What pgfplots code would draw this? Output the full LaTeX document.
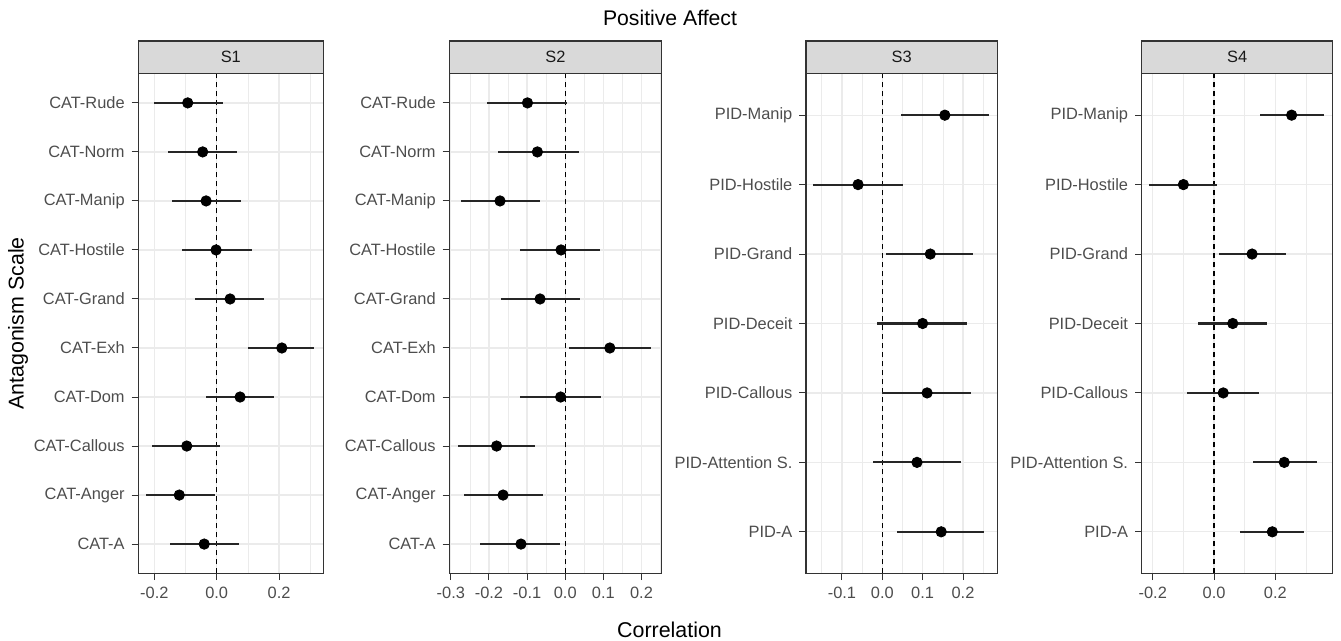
\documentclass[border=0pt]{standalone}
\usepackage{fontspec}
\setmainfont{Liberation Sans}
\usepackage{pgfplots}
\usepackage{pgfplotstable}
\pgfplotsset{compat=1.18}
\definecolor{gridc}{HTML}{EBEBEB}
\definecolor{framec}{HTML}{333333}
\definecolor{tickc}{HTML}{4D4D4D}
\definecolor{stripc}{HTML}{D9D9D9}

% i = row position (1 = bottom), r = correlation, lo/hi = interval
\pgfplotstableread{
i r lo hi
1 -0.040 -0.150 0.073
2 -0.120 -0.228 -0.005
3 -0.096 -0.206 0.011
4 0.075 -0.034 0.184
5 0.209 0.102 0.313
6 0.043 -0.070 0.153
7 -0.002 -0.110 0.112
8 -0.034 -0.144 0.077
9 -0.045 -0.157 0.064
10 -0.093 -0.201 0.021
}\sone
\pgfplotstableread{
i r lo hi
1 -0.116 -0.224 -0.014
2 -0.163 -0.266 -0.059
3 -0.180 -0.281 -0.078
4 -0.012 -0.119 0.095
5 0.117 0.010 0.224
6 -0.066 -0.169 0.040
7 -0.011 -0.119 0.091
8 -0.171 -0.274 -0.066
9 -0.073 -0.176 0.037
10 -0.099 -0.204 0.005
}\stwo
\pgfplotstableread{
i r lo hi
1 0.146 0.036 0.2525
2 0.086 -0.0225 0.196
3 0.111 -0.001 0.219
4 0.100 -0.0125 0.209
5 0.119 0.009 0.226
6 -0.060 -0.1725 0.0525
7 0.155 0.046 0.265
}\sthree
\pgfplotstableread{
i r lo hi
1 0.190 0.083 0.295
2 0.229 0.128 0.337
3 0.030 -0.087 0.145
4 0.061 -0.051 0.172
5 0.124 0.017 0.234
6 -0.100 -0.211 0.011
7 0.253 0.150 0.359
}\sfour

\pgfplotsset{
  panel/.style={
    scale only axis, height=250pt, anchor=south west, clip=false,
    axis line style={framec, line width=0.6pt},
    tick align=outside, tick pos=left,
    major tick length=3.3pt, minor tick length=0pt,
    tick style={framec, line width=0.5pt},
    xmajorgrids, ymajorgrids, xminorgrids,
    major grid style={gridc, line width=0.6pt},
    minor grid style={gridc, line width=0.3pt},
    ticklabel style={font=\fontsize{8.2}{9}\selectfont, text=tickc},
    ytick={1,...,10},
  },
  cat/.style={ymin=0.4, ymax=10.6,
    yticklabels={CAT-A,CAT-Anger,CAT-Callous,CAT-Dom,CAT-Exh,CAT-Grand,CAT-Hostile,CAT-Manip,CAT-Norm,CAT-Rude}},
  pid/.style={ymin=0.4, ymax=7.6, ytick={1,...,7},
    yticklabels={PID-A,PID-Attention S.,PID-Callous,PID-Deceit,PID-Grand,PID-Hostile,PID-Manip}},
  est/.style={only marks, mark=*, mark size=2.6pt, black,
    error bars/.cd, x dir=both, x explicit, error mark=none,
    error bar style={line width=1.1pt, black!85}},
  zero/.style={black, line width=0.6pt, dash pattern=on 2.5pt off 2pt},
}

\newcommand{\strip}[1]{%
  \draw[framec, line width=0.6pt, fill=stripc] (rel axis cs:0,1) rectangle ([yshift=16.25pt]rel axis cs:1,1);
  \node[font=\fontsize{8.2}{9}\selectfont, text=black!90] at ([yshift=8.1pt]rel axis cs:0.5,1) {#1};
}

\begin{document}
\begin{tikzpicture}
\useasboundingbox (0,0) rectangle (670.5pt,320.5pt);

\begin{axis}[panel, cat, at={(69.15pt,33.75pt)}, width=92.5pt,
  xmin=-0.2515, xmax=0.342,
  xtick={-0.2,0,0.2}, xticklabels={-0.2,0.0,0.2},
  minor xtick={-0.1,0.1,0.3}]
\addplot[zero] coordinates {(0,0.4) (0,10.6)};
\addplot[est] table[x=r, y=i, x error plus expr=\thisrow{hi}-\thisrow{r}, x error minus expr=\thisrow{r}-\thisrow{lo}] {\sone};
\strip{S1}
\end{axis}

\begin{axis}[panel, cat, at={(224.65pt,33.75pt)}, width=106.2pt,
  xmin=-0.304, xmax=0.253,
  xtick={-0.3,-0.2,-0.1,0,0.1,0.2}, xticklabels={-0.3,-0.2,-0.1,0.0,0.1,0.2},
  minor xtick={-0.25,-0.15,-0.05,0.05,0.15,0.25}]
\addplot[zero] coordinates {(0,0.4) (0,10.6)};
\addplot[est] table[x=r, y=i, x error plus expr=\thisrow{hi}-\thisrow{r}, x error minus expr=\thisrow{r}-\thisrow{lo}] {\stwo};
\strip{S2}
\end{axis}

\begin{axis}[panel, pid, at={(403pt,33.75pt)}, width=95.65pt,
  xmin=-0.189, xmax=0.285,
  xtick={-0.1,0,0.1,0.2}, xticklabels={-0.1,0.0,0.1,0.2},
  minor xtick={-0.15,-0.05,0.05,0.15,0.25}]
\addplot[zero] coordinates {(0,0.4) (0,7.6)};
\addplot[est] table[x=r, y=i, x error plus expr=\thisrow{hi}-\thisrow{r}, x error minus expr=\thisrow{r}-\thisrow{lo}] {\sthree};
\strip{S3}
\end{axis}

\begin{axis}[panel, pid, at={(570.85pt,33.75pt)}, width=95.5pt,
  xmin=-0.236, xmax=0.387,
  xtick={-0.2,0,0.2}, xticklabels={-0.2,0.0,0.2},
  minor xtick={-0.1,0.1,0.3}]
\addplot[zero] coordinates {(0,0.4) (0,7.6)};
\addplot[est] table[x=r, y=i, x error plus expr=\thisrow{hi}-\thisrow{r}, x error minus expr=\thisrow{r}-\thisrow{lo}] {\sfour};
\strip{S4}
\end{axis}

\node[font=\fontsize{10.6}{12}\selectfont] at (335pt,311.5pt) {Positive Affect};
\node[font=\fontsize{10.7}{12}\selectfont] at (334.75pt,5.5pt) {Correlation};
\node[font=\fontsize{10.7}{12}\selectfont, rotate=90] at (9pt,158.75pt) {Antagonism Scale};
\end{tikzpicture}
\end{document}
